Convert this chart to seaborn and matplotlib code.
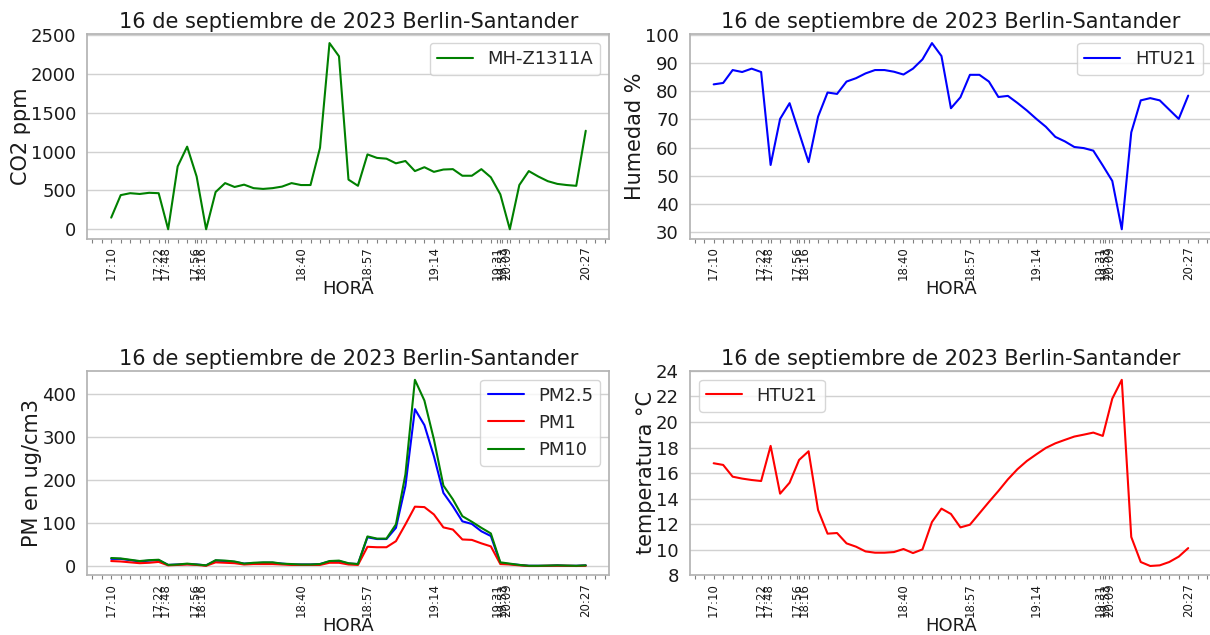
import numpy as np
import pandas as pd
import matplotlib
matplotlib.use("Agg")
import matplotlib.pyplot as plt
from matplotlib.ticker import MultipleLocator
import seaborn as sns

# datos (51 muestras)
co2 = [150, 440, 465, 455, 470, 465, 0, 810, 1065, 680,
       0, 480, 595, 545, 575, 530, 520, 530, 550, 595,
       570, 570, 1050, 2400, 2230, 640, 560, 965, 920, 910,
       850, 880, 750, 800, 740, 770, 775, 690, 690, 775,
       670, 450, 0, 570, 750, 680, 620, 585, 570, 560, 1270]

humedad = [82.5, 83, 87.6, 86.9, 88.1, 86.9, 53.8, 70.2, 75.8, 65.3,
           54.8, 71, 79.6, 79.1, 83.5, 84.7, 86.4, 87.6, 87.6, 87,
           86, 88.1, 91.4, 97.2, 92.6, 74, 77.9, 85.9, 85.9, 83.5,
           78, 78.4, 75.9, 73.2, 70.2, 67.4, 63.8, 62.2, 60.2, 59.8,
           58.9, 53.6, 48.1, 30.9, 65.4, 76.8, 77.6, 76.8, 73.5, 70.2, 78.5]

pm25 = [17, 17, 14, 11, 13, 14, 3, 4, 5, 4,
        2, 13, 12, 10, 6, 7, 8, 8, 6, 4,
        4, 4, 5, 11, 12, 6, 5, 67, 63, 63,
        89, 186, 364, 327, 255, 170, 139, 104, 98, 81,
        70, 7, 5, 3, 1, 1, 1, 2, 1, 1, 2]

pm1 = [12, 11, 9, 7, 8, 10, 2, 3, 4, 3,
       1, 9, 8, 7, 4, 5, 5, 5, 4, 3,
       3, 3, 3, 8, 8, 4, 3, 45, 44, 44,
       58, 97, 138, 137, 120, 90, 85, 62, 61, 53,
       46, 5, 4, 2, 0.5, 0.5, 1, 1, 1, 0.5, 1]

pm10 = [19, 18, 15, 12, 14, 15, 3, 4, 6, 4,
        2, 14, 13, 11, 6, 8, 9, 9, 6, 5,
        4, 4, 5, 12, 13, 7, 5, 69, 64, 64,
        97, 213, 432, 384, 294, 187, 155, 116, 103, 89,
        76, 9, 6, 3, 1, 1, 1.5, 2, 1.5, 1, 2]

temperatura = [16.77, 16.64, 15.72, 15.57, 15.46, 15.38, 18.13, 14.39, 15.25, 17.03,
               17.71, 13.11, 11.26, 11.31, 10.5, 10.24, 9.87, 9.77, 9.77, 9.82,
               10.06, 9.74, 10.03, 12.17, 13.22, 12.8, 11.75, 11.96, 12.85, 13.74,
               14.6, 15.51, 16.3, 16.95, 17.47, 17.97, 18.33, 18.6, 18.86, 19.01,
               19.17, 18.91, 21.83, 23.3, 11.0, 9.04, 8.73, 8.78, 9.04, 9.46, 10.13]

horas = ['17:10', '17:22', '17:48', '17:56', '18:16', '18:40',
         '18:57', '19:14', '19:31', '19:53', '20:09', '20:27']
pos_horas = [0, 5, 5.7, 8.8, 9.5, 20, 27, 34, 40.7, 41.2, 41.7, 50]

df = pd.DataFrame({'muestra': np.arange(len(co2)), 'co2': co2, 'humedad': humedad,
                   'pm25': pm25, 'pm1': pm1, 'pm10': pm10, 'temp': temperatura})

sns.set_theme(style='whitegrid')
plt.rcParams['font.family'] = ['DejaVu Sans']
plt.rcParams['axes.edgecolor'] = '0.7'

fig = plt.figure(figsize=(12.1, 6.35), dpi=100)
w, h = 0.4314, 0.3225
ax1 = fig.add_axes([0.0723, 0.6243, w, h])
ax2 = fig.add_axes([0.5702, 0.6243, w, h])
ax3 = fig.add_axes([0.0723, 0.0940, w, h])
ax4 = fig.add_axes([0.5702, 0.0940, w, h])

titulo = '16 de septiembre de 2023 Berlin-Santander'

sns.lineplot(data=df, x='muestra', y='co2', color='green', label='MH-Z1311A', lw=1.5, ax=ax1)
sns.lineplot(data=df, x='muestra', y='humedad', color='blue', label='HTU21', lw=1.5, ax=ax2)
sns.lineplot(data=df, x='muestra', y='pm25', color='blue', label='PM2.5', lw=1.5, ax=ax3)
sns.lineplot(data=df, x='muestra', y='pm1', color='red', label='PM1', lw=1.5, ax=ax3)
sns.lineplot(data=df, x='muestra', y='pm10', color='green', label='PM10', lw=1.5, ax=ax3)
sns.lineplot(data=df, x='muestra', y='temp', color='red', label='HTU21', lw=1.5, ax=ax4)

ylabels = {ax1: 'CO2 ppm', ax2: 'Humedad %', ax3: 'PM en ug/cm3', ax4: 'temperatura °C'}
for ax in [ax1, ax2, ax3, ax4]:
    ax.set_title(titulo, fontsize=15, pad=4, color='0.1')
    ax.set_ylabel(ylabels[ax], fontsize=15, labelpad=0, color='0.1')
    ax.set_xlabel('HORA', fontsize=13, labelpad=0, color='0.1')
    ax.grid(axis='x', visible=False)
    ax.grid(axis='y', color='0.82', lw=1)
    ax.set_xticks(pos_horas)
    ax.set_xticklabels(horas, rotation=90, fontsize=8.5, color='0.1')
    ax.xaxis.set_minor_locator(MultipleLocator(1))
    ax.tick_params(axis='x', which='both', bottom=True, length=3, width=0.8, color='0.5', pad=2.5)
    ax.tick_params(axis='y', labelsize=13, pad=2, labelcolor='0.1')

ax1.set_yticks([0, 500, 1000, 1500, 2000, 2500])
ax2.set_yticks(range(30, 101, 10))
ax3.set_yticks([0, 100, 200, 300, 400])
ax4.set_yticks(range(8, 25, 2))

ax1.legend(loc='upper right', fontsize=13)
ax2.legend(loc='upper right', fontsize=13)
ax3.legend(loc='upper right', fontsize=13)
ax4.legend(loc='upper left', fontsize=13)

fig.savefig('out.png', dpi=100)
